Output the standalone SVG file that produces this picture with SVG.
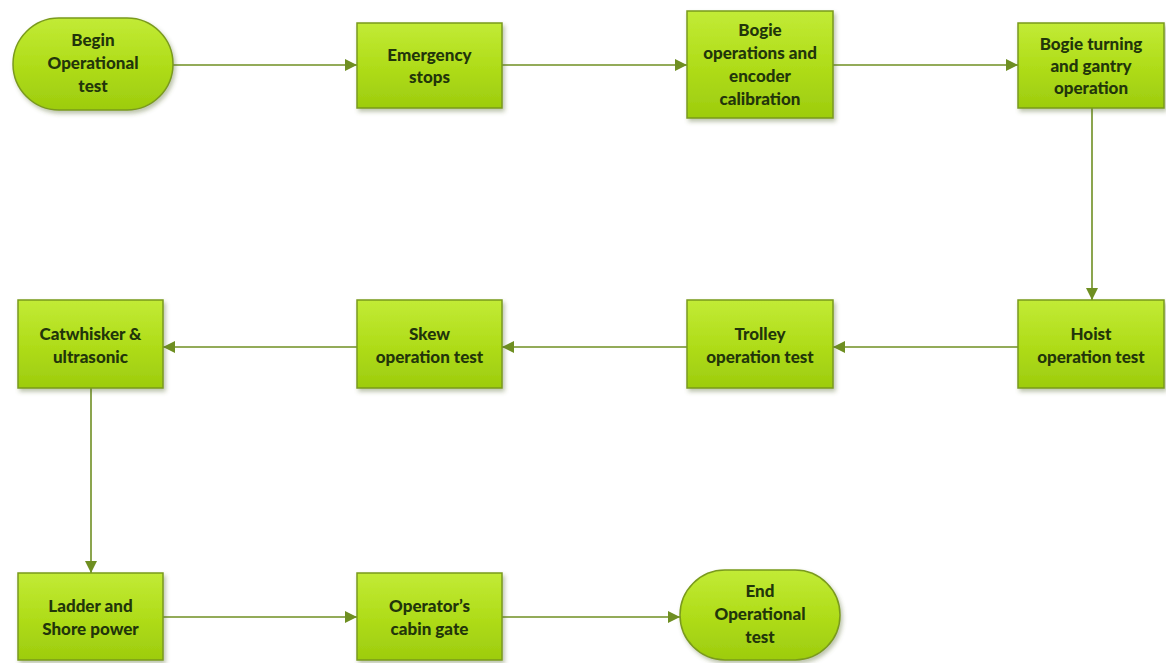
<svg xmlns="http://www.w3.org/2000/svg" width="1166" height="663" viewBox="0 0 1166 663">
  <style>
    .box { fill: url(#lime); stroke: #7a9a1e; stroke-width: 1.5; filter: url(#shadow); }
    .lbl { font-family: Lato, "Open Sans", "Liberation Sans", sans-serif; font-weight: 900; font-size: 17px; fill: #22350a; text-anchor: middle; }
    .edge { stroke: #6f8f22; stroke-width: 1.6; fill: none; marker-end: url(#arrow); }
  </style>
  <defs>
    <linearGradient id="lime" x1="0" y1="0" x2="0" y2="1">
      <stop offset="0" stop-color="#c2eb36"/>
      <stop offset="0.5" stop-color="#b0dd1a"/>
      <stop offset="1" stop-color="#9dcc0e"/>
    </linearGradient>
    <filter id="shadow" x="-10%" y="-10%" width="125%" height="130%">
      <feDropShadow dx="2" dy="3" stdDeviation="2" flood-color="#5a6a30" flood-opacity="0.4"/>
    </filter>
    <marker id="arrow" viewBox="0 0 10 10" refX="10" refY="5" markerWidth="12" markerHeight="12" markerUnits="userSpaceOnUse" orient="auto">
      <path d="M0,0 L10,5 L0,10 z" fill="#6f8f22"/>
    </marker>
  </defs>
  <rect width="1166" height="663" fill="#ffffff"/>

  <g id="connectors">
    <line class="edge" x1="173" y1="65" x2="357" y2="65"/>
    <line class="edge" x1="502" y1="65" x2="687" y2="65"/>
    <line class="edge" x1="833" y1="65" x2="1018" y2="65"/>
    <line class="edge" x1="1092" y1="108" x2="1092" y2="300"/>
    <line class="edge" x1="1018" y1="347" x2="833" y2="347"/>
    <line class="edge" x1="687" y1="347" x2="502" y2="347"/>
    <line class="edge" x1="357" y1="347" x2="163" y2="347"/>
    <line class="edge" x1="91" y1="388" x2="91" y2="573"/>
    <line class="edge" x1="163" y1="617" x2="357" y2="617"/>
    <line class="edge" x1="502" y1="617" x2="680" y2="617"/>
  </g>

  <g id="begin">
    <rect class="box" x="13" y="18" width="160" height="92" rx="46" ry="46"/>
    <text class="lbl" x="93" y="46">Begin</text>
    <text class="lbl" x="93" y="69">Operational</text>
    <text class="lbl" x="93" y="92">test</text>
  </g>

  <g id="emergency-stops">
    <rect class="box" x="357" y="23" width="145" height="85"/>
    <text class="lbl" x="429.5" y="61">Emergency</text>
    <text class="lbl" x="429.5" y="83">stops</text>
  </g>

  <g id="bogie-operations">
    <rect class="box" x="687" y="11" width="146" height="107"/>
    <text class="lbl" x="760" y="36">Bogie</text>
    <text class="lbl" x="760" y="59">operations and</text>
    <text class="lbl" x="760" y="82">encoder</text>
    <text class="lbl" x="760" y="105">calibration</text>
  </g>

  <g id="bogie-turning">
    <rect class="box" x="1018" y="23" width="146" height="85"/>
    <text class="lbl" x="1091" y="50">Bogie turning</text>
    <text class="lbl" x="1091" y="72">and gantry</text>
    <text class="lbl" x="1091" y="94">operation</text>
  </g>

  <g id="hoist">
    <rect class="box" x="1018" y="300" width="146" height="88"/>
    <text class="lbl" x="1091" y="340">Hoist</text>
    <text class="lbl" x="1091" y="363">operation test</text>
  </g>

  <g id="trolley">
    <rect class="box" x="687" y="300" width="146" height="88"/>
    <text class="lbl" x="760" y="340">Trolley</text>
    <text class="lbl" x="760" y="363">operation test</text>
  </g>

  <g id="skew">
    <rect class="box" x="357" y="300" width="145" height="88"/>
    <text class="lbl" x="429.5" y="340">Skew</text>
    <text class="lbl" x="429.5" y="363">operation test</text>
  </g>

  <g id="catwhisker">
    <rect class="box" x="18" y="300" width="145" height="88"/>
    <text class="lbl" x="90.5" y="340">Catwhisker &amp;</text>
    <text class="lbl" x="90.5" y="363">ultrasonic</text>
  </g>

  <g id="ladder">
    <rect class="box" x="18" y="573" width="145" height="87"/>
    <text class="lbl" x="90.5" y="612">Ladder and</text>
    <text class="lbl" x="90.5" y="635">Shore power</text>
  </g>

  <g id="operator-gate">
    <rect class="box" x="357" y="573" width="145" height="87"/>
    <text class="lbl" x="429.5" y="612">Operator’s</text>
    <text class="lbl" x="429.5" y="635">cabin gate</text>
  </g>

  <g id="end">
    <rect class="box" x="680" y="570" width="160" height="90" rx="45" ry="45"/>
    <text class="lbl" x="760" y="597">End</text>
    <text class="lbl" x="760" y="620">Operational</text>
    <text class="lbl" x="760" y="643">test</text>
  </g>
</svg>
